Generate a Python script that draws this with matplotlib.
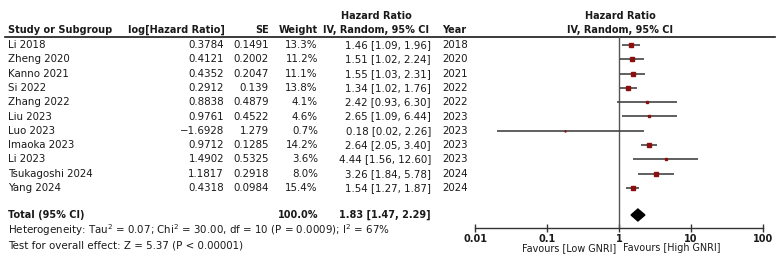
import matplotlib.pyplot as plt
import numpy as np
from matplotlib.patches import Polygon

# data
studies = ['Li 2018', 'Zheng 2020', 'Kanno 2021', 'Si 2022', 'Zhang 2022', 'Liu 2023',
           'Luo 2023', 'Imaoka 2023', 'Li 2023', 'Tsukagoshi 2024', 'Yang 2024']
log_hr = ['0.3784', '0.4121', '0.4352', '0.2912', '0.8838', '0.9761',
          '\u22121.6928', '0.9712', '1.4902', '1.1817', '0.4318']
se = ['0.1491', '0.2002', '0.2047', '0.139', '0.4879', '0.4522',
      '1.279', '0.1285', '0.5325', '0.2918', '0.0984']
weight = [13.3, 11.2, 11.1, 13.8, 4.1, 4.6, 0.7, 14.2, 3.6, 8.0, 15.4]
hr = [1.46, 1.51, 1.55, 1.34, 2.42, 2.65, 0.18, 2.64, 4.44, 3.26, 1.54]
lo = [1.09, 1.02, 1.03, 1.02, 0.93, 1.09, 0.02, 2.05, 1.56, 1.84, 1.27]
hi = [1.96, 2.24, 2.31, 1.76, 6.30, 6.44, 2.26, 3.40, 12.60, 5.78, 1.87]
year = [2018, 2020, 2021, 2022, 2022, 2023, 2023, 2023, 2023, 2024, 2024]
total = (1.83, 1.47, 2.29)
ticks = [0.01, 0.1, 1, 10, 100]

W, H = 779, 269
fig = plt.figure(figsize=(W / 100, H / 100), dpi=100)
plt.rcParams['font.family'] = ['DejaVu Sans']
txt = '#1a1a1a'
fs = 7.35     # regular text
fsb = 7.0     # bold text

# text layer in pixel coordinates
tx = fig.add_axes([0, 0, 1, 1])
tx.set_xlim(0, W)
tx.set_ylim(H, 0)
tx.axis('off')

def t(x, y, s, ha='left', bold=False, size=None):
    if size is None:
        size = fsb if bold else fs
    tx.text(x, y, s, ha=ha, va='center', fontsize=size, color=txt,
            fontweight='bold' if bold else 'normal')

# headers
t(8, 30, 'Study or Subgroup', bold=True)
t(225, 30, 'log[Hazard Ratio]', ha='right', bold=True)
t(269, 30, 'SE', ha='right', bold=True)
t(318, 30, 'Weight', ha='right', bold=True)
t(376, 16, 'Hazard Ratio', ha='center', bold=True)
t(376, 30, 'IV, Random, 95% CI', ha='center', bold=True)
t(442, 30, 'Year', bold=True)
t(620, 16, 'Hazard Ratio', ha='center', bold=True)
t(620, 30, 'IV, Random, 95% CI', ha='center', bold=True)
tx.plot([5, 775], [36.5, 36.5], color=txt, lw=1.2)

rows = 45 + 14.3 * np.arange(len(studies))
for i, y in enumerate(rows):
    t(8, y, studies[i])
    t(224, y, log_hr[i], ha='right')
    t(269, y, se[i], ha='right')
    t(318, y, f'{weight[i]:.1f}%', ha='right')
    t(431, y, f'{hr[i]:.2f} [{lo[i]:.2f}, {hi[i]:.2f}]', ha='right')
    t(442, y, str(year[i]))

t(8, 215, 'Total (95% CI)', bold=True)
t(318, 215, '100.0%', ha='right', bold=True)
t(431, 215, f'{total[0]:.2f} [{total[1]:.2f}, {total[2]:.2f}]', ha='right', bold=True)
t(8, 230, 'Heterogeneity: Tau$^2$ = 0.07; Chi$^2$ = 30.00, df = 10 (P = 0.0009); I$^2$ = 67%')
t(8, 245, 'Test for overall effect: Z = 5.37 (P < 0.00001)')

# forest panel: x log scale, y in pixel units
x0, x1 = 475, 763
y_top, y_bot = 37, 228
ax = fig.add_axes([x0 / W, 1 - y_bot / H, (x1 - x0) / W, (y_bot - y_top) / H])
ax.set_xscale('log')
ax.set_xlim(0.01, 100)
ax.set_ylim(y_bot, y_top)
ax.patch.set_alpha(0)
for s in ['top', 'right', 'left']:
    ax.spines[s].set_visible(False)
ax.spines['bottom'].set_color('#333333')
ax.spines['bottom'].set_linewidth(1.0)
ax.set_yticks([])
ax.set_xticks(ticks)
ax.set_xticklabels(['0.01', '0.1', '1', '10', '100'], fontsize=fsb, fontweight='bold',
                   color=txt)
ax.xaxis.set_minor_locator(plt.NullLocator())
ax.tick_params(axis='x', direction='inout', length=6, width=1.0, color='#333333', pad=1)

ax.plot([1, 1], [y_top, y_bot], color='#555555', lw=1.0)
for i, y in enumerate(rows):
    ax.plot([lo[i], hi[i]], [y, y], color='#444444', lw=1.2, solid_capstyle='butt')
    ax.plot(hr[i], y, 's', color='#8b0f0f', mec='#8b0f0f',
            markersize=0.8 * np.sqrt(weight[i]))
ax.add_patch(Polygon([(total[1], 215), (total[0], 209), (total[2], 215), (total[0], 221)],
                     closed=True, color='black'))

t(616, 248, 'Favours [Low GNRI]', ha='right', size=6.9)
t(623, 248, 'Favours [High GNRI]', ha='left', size=6.9)

fig.savefig('out.png', dpi=100)
